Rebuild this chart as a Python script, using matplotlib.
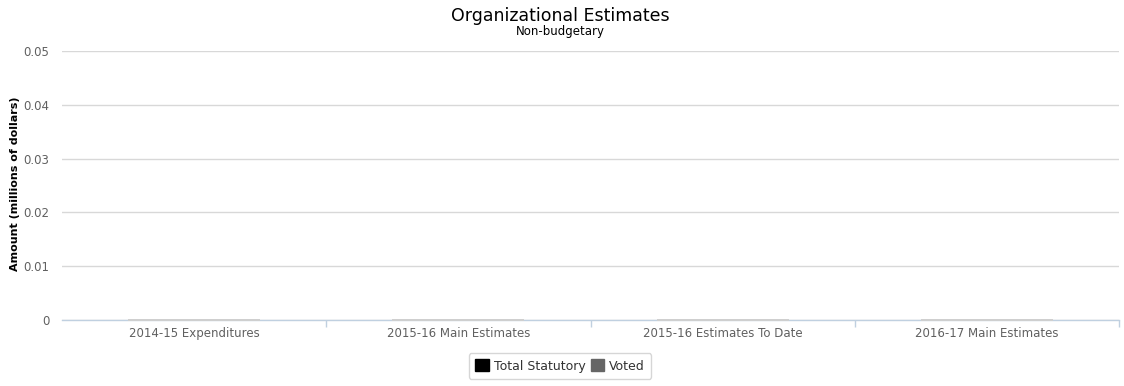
import matplotlib
matplotlib.use("Agg")
import matplotlib.pyplot as plt
from matplotlib.patches import Patch
import numpy as np

categories = ["2014-15 Expenditures", "2015-16 Main Estimates",
              "2015-16 Estimates To Date", "2016-17 Main Estimates"]
total_statutory = [0, 0, 0, 0]
voted = [0, 0, 0, 0]
y_ticks = [0, 0.01, 0.02, 0.03, 0.04, 0.05]
y_tick_labels = ["0", "0.01", "0.02", "0.03", "0.04", "0.05"]

plt.rcParams['font.family'] = ['DejaVu Sans']

W, H = 1124, 386
fig = plt.figure(figsize=(W / 100, H / 100), dpi=100)
ax = fig.add_axes([62 / W, 66 / H, (1119 - 62) / W, (320 - 51) / H])

x = np.arange(len(categories))
ax.bar(x, voted, width=0.5, color="#666666", edgecolor="#cfcfcf", linewidth=1.3,
       zorder=4, clip_on=False)
ax.bar(x, total_statutory, width=0.5, bottom=voted, color="#000000",
       edgecolor="#cfcfcf", linewidth=1.3, zorder=4, clip_on=False)

ax.set_xlim(-0.5, len(categories) - 0.5)
ax.set_ylim(0, 0.05)
ax.set_yticks(y_ticks)
ax.set_yticklabels(y_tick_labels)
ax.set_xticks(x)
ax.set_xticklabels(categories)
ax.set_xticks(np.arange(1, len(categories) + 1) - 0.5, minor=True)

for s in ["top", "right", "left"]:
    ax.spines[s].set_visible(False)
ax.spines["bottom"].set_color("#C0D0E0")
ax.spines["bottom"].set_linewidth(1)
ax.spines["bottom"].set_zorder(3)

ax.grid(axis="y", color="#D8D8D8", linewidth=1)
ax.set_axisbelow(True)

ax.tick_params(axis="y", length=0, pad=9, labelsize=8.5, labelcolor="#606060")
ax.tick_params(axis="x", which="major", length=0, pad=5, labelsize=8.5, labelcolor="#606060")
ax.tick_params(axis="x", which="minor", length=5, color="#C0D0E0", width=1)

fig.text(15 / W, 1 - 184 / H, "Amount (millions of dollars)", rotation=90,
         ha="center", va="center", fontsize=8, fontweight="bold", color="#000000")

fig.text(560 / W, 1 - 16 / H, "Organizational Estimates", ha="center", va="center",
         fontsize=12.5, color="#000000")
fig.text(560 / W, 1 - 31 / H, "Non-budgetary", ha="center", va="center",
         fontsize=8.5, color="#000000")

handles = [Patch(facecolor="#000000", edgecolor="#000000", label="Total Statutory"),
           Patch(facecolor="#666666", edgecolor="#666666", label="Voted")]
leg = fig.legend(handles=handles, loc="center", bbox_to_anchor=(560 / W, 1 - 366 / H),
                 ncol=2, frameon=True, fontsize=9, handlelength=1.1, handleheight=1.1,
                 handletextpad=0.4, columnspacing=0.4, borderpad=0.5, fancybox=True,
                 labelcolor="#333333")
leg.get_frame().set_edgecolor("#cccccc")
leg.get_frame().set_linewidth(1)

fig.savefig("out.png", dpi=100)
